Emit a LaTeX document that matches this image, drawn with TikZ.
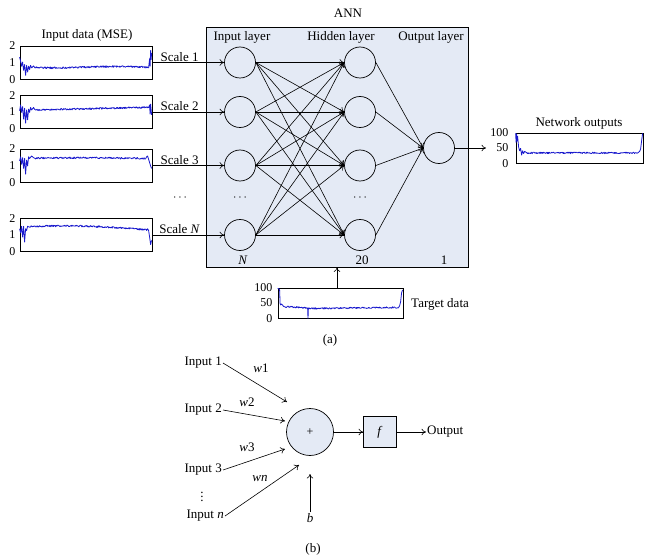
\documentclass[tikz,border=0pt]{standalone}
\usepackage{fontspec}
\setmainfont{Liberation Serif}
\usetikzlibrary{arrows.meta,calc}
\definecolor{annfill}{RGB}{228,234,245}
\definecolor{sig}{RGB}{25,25,205}
\newcommand\sigframe[8]{% name, center, width, height, top, mid, bottom, gap
  \node[plotbox, minimum width=#3, minimum height=#4] (#1) at #2 {};
  \node[tick] (#1-t) at ($(#1.north west)+(-#8,0)$) {#5};
  \node[tick] (#1-m) at ($(#1.west)+(-#8,0)$) {#6};
  \node[tick] (#1-b) at ($(#1.south west)+(-#8,0)$) {#7};
}
\begin{document}
\begin{tikzpicture}[x=1pt,y=-1pt,
  >={To[length=4.5pt,width=6.5pt]},
  lbl/.style={font=\fontsize{13}{15}\selectfont, inner sep=1pt},
  tick/.style={font=\fontsize{12}{14}\selectfont, inner sep=0pt, anchor=east},
  neuron/.style={circle, draw, line width=0.7pt, minimum size=31pt, inner sep=0pt},
  plotbox/.style={draw, line width=0.8pt, inner sep=0pt, fill=white},
  conn/.style={->, line width=0.6pt},
  sigline/.style={sig, line width=0.8pt, line join=round}]
\useasboundingbox (0,0) rectangle (652,556);
\pgfmathsetseed{7}

% ---------- (a) ----------
\node[lbl] (inttl) at (87,35) {Input data (MSE)};
\sigframe{p1}{(86,62.5)}{132pt}{33pt}{2}{1}{0}{4}
\sigframe{p2}{(86,112)}{132pt}{33pt}{2}{1}{0}{4}
\sigframe{p3}{(86,165.5)}{132pt}{33pt}{2}{1}{0}{4}
\sigframe{p4}{(86,235)}{132pt}{33pt}{2}{1}{0}{4}

\begin{scope}[shift={(p1.south west)}, x=1pt, y=16.5pt]
\draw[sigline] (0,1.35) -- (1,1.1) -- (2,0.8) -- (3,1.05) -- (4,0.55) -- (5,0.9) -- (6,0.25) -- (7,0.85) -- (8,0.45) -- (9,0.8) -- (10,0.6) -- (11,0.85) -- (12,0.7) -- (14,0.82) -- plot[domain=15:128, samples=230] (\x,{0.74-0.04*sin(\x*2.8)+0.05*rand}) -- (129,0.7) -- (130,1.25) -- (130.5,0.8) -- (131,1.75) -- (131.5,1.2) -- (132,1.6);
\end{scope}
\begin{scope}[shift={(p2.south west)}, x=1pt, y=16.5pt]
\draw[sigline] (0,1.1) -- (1,1.45) -- (2,1.0) -- (3,1.35) -- (4,0.6) -- (5,1.25) -- (6,0.35) -- (7,1.15) -- (8,0.55) -- (9,1.2) -- (10,1.0) -- (11,1.3) -- (12,1.15) -- (14,1.3) -- plot[domain=15:128, samples=230] (\x,{1.12+0.0015*\x+0.05*rand}) -- (129,1.3) -- (130,1.45) -- (130.5,0.9) -- (131,1.5) -- (132,0.85);
\end{scope}
\begin{scope}[shift={(p3.south west)}, x=1pt, y=16.5pt]
\draw[sigline] (0,1.3) -- (1,1.55) -- (2,1.1) -- (3,1.5) -- (4,0.85) -- (5,1.45) -- (6,0.5) -- (7,1.35) -- (8,1.0) -- (9,1.55) -- (10,1.45) -- (12,1.6) -- (14,1.5) -- plot[domain=15:126, samples=220] (\x,{1.45+0.04*sin(\x*1.4)+0.05*rand}) -- (127,1.55) -- (128,1.6) -- (129,1.4) -- (130,1.2) -- (131,1.0) -- (132,0.85);
\end{scope}
\begin{scope}[shift={(p4.south west)}, x=1pt, y=16.5pt]
\draw[sigline] (0,1.4) -- (1,1.15) -- (2,1.55) -- (3,0.9) -- (4,1.55) -- (5,0.6) -- (6,1.4) -- (7,1.3) -- (8,1.55) -- (10,1.5) -- plot[domain=11:127, samples=230] (\x,{1.52+0.12*sin(\x*1.5)-0.0012*\x+0.05*rand}) -- (128,1.4) -- (129,1.3) -- (130,0.9) -- (131,0.45) -- (132,0.7);
\end{scope}

% ANN box
\node[draw, fill=annfill, line width=0.8pt, minimum width=262pt, minimum height=240pt, inner sep=0pt] (ann) at (337,147) {};
\node[lbl] (annt) at (348,13) {ANN};
\node[lbl] (lin) at (242,37) {Input layer};
\node[lbl] (lhid) at (341,37) {Hidden layer};
\node[lbl] (lout) at (431,37) {Output layer};

\foreach \n/\y in {1/62.5,2/112,3/165.5,4/235}{
  \node[neuron] (i\n) at (240,\y) {};
  \node[neuron] (h\n) at (360,\y) {};
}
\node[neuron] (o) at (439,148) {};
\node[lbl] (dI) at (240,198) {$\cdots$};
\node[lbl] (dH) at (360,198) {$\cdots$};
\node[lbl] (dS) at (180,198) {$\cdots$};
\node[lbl] (nN) at (243,260) {\textit{N}};
\node[lbl] (n20) at (362,260) {20};
\node[lbl] (n1) at (444,260) {1};

\foreach \a in {1,2,3,4}{
  \foreach \b in {1,2,3,4}{
    \draw[conn] (i\a.east) -- (h\b.west);
  }
  \draw[conn] (h\a.east) -- (o.west);
}

\draw[conn] (p1.east) -- node[lbl, above, pos=0.38] (s1) {Scale 1} (i1.west);
\draw[conn] (p2.east) -- node[lbl, above, pos=0.38] (s2) {Scale 2} (i2.west);
\draw[conn] (p3.east) -- node[lbl, above, pos=0.38] (s3) {Scale 3} (i3.west);
\draw[conn] (p4.east) -- node[lbl, above, pos=0.38] (s4) {Scale \textit{N}} (i4.west);

% network outputs
\node[lbl] (nott) at (579,123) {Network outputs};
\sigframe{po}{(579.5,148)}{127pt}{30pt}{100}{50}{0}{7}
\begin{scope}[shift={(po.south west)}, x=1pt, y=0.3pt]
\draw[sigline] (0,100) -- (0.5,70) -- (1,98) -- (1.5,75) -- (2,90) -- (3,55) -- (4,42) -- (5,50) -- (6,28) -- (7,42) -- (8,33) -- (9,40) -- (11,36) -- plot[domain=12:123, samples=220] (\x,{35+2.5*rand}) -- (124,40) -- (125,48) -- (126,75) -- (127,100);
\end{scope}
\coordinate (oend) at (486,148);
\draw[conn] (o) -- (oend);

% target data
\sigframe{tg}{(340.5,303)}{125pt}{30pt}{100}{50}{0}{5}
\begin{scope}[shift={(tg.south west)}, x=1pt, y=0.3pt]
\draw[sigline] (0,100) -- (1,100) -- (2,95) -- (2.5,50) -- (3,45) -- (4,48) -- (6,40) -- plot[domain=7:29, samples=40] (\x,{40-0.15*\x+2.5*rand}) -- (30,35) -- (30.4,0) -- (30.8,35) -- plot[domain=31:121, samples=180] (\x,{33+0.04*(\x-31)+2.5*rand}) -- (122,42) -- (123,55) -- (124,85) -- (125,95);
\end{scope}
\node[lbl, anchor=west] (tgl) at (410,304) {Target data};
\draw[conn] (ann.south |- tg.north) -- (ann.south);
\node[lbl] (capa) at (330,340) {(a)};

% ---------- (b) ----------
\node[circle, draw, line width=0.7pt, fill=annfill, minimum size=47pt, inner sep=0pt, font=\fontsize{12}{14}\selectfont] (S) at (310,432) {+};
\node[draw, line width=0.7pt, fill=annfill, minimum width=33pt, minimum height=31pt, lbl] (F) at (380,432) {\textit{f}};
\node[lbl, anchor=west] (Out) at (426,432) {Output};
\draw[conn] (S) -- (F);
\draw[conn] (F) -- (Out);

\node[lbl, anchor=east] (in1) at (223,363) {Input 1};
\node[lbl, anchor=east] (in2) at (223,410) {Input 2};
\node[lbl, anchor=east] (in3) at (223,470) {Input 3};
\node[lbl, anchor=east] (inn) at (225,516) {Input \textit{n}};
\node[lbl] (vd) at (202,494) {$\vdots$};

\draw[conn] (in1.east) -- ($(S)+(-23,-30)$);
\draw[conn] (in2.east) -- ($(S)+(-25,-11)$);
\draw[conn] (in3.east) -- ($(S)+(-25,17)$);
\draw[conn] (inn.east) -- ($(S)+(-11,33)$);

\node[lbl] (w1) at (261,368) {\textit{w}1};
\node[lbl] (w2) at (247,402) {\textit{w}2};
\node[lbl] (w3) at (247,447) {\textit{w}3};
\node[lbl] (wn) at (260,478) {\textit{wn}};

\node[lbl] (bb) at (310,518) {\textit{b}};
\draw[conn] (bb.north) -- ($(S)+(0,42)$);
\node[lbl] (capb) at (313,549) {(b)};
\end{tikzpicture}
\end{document}
